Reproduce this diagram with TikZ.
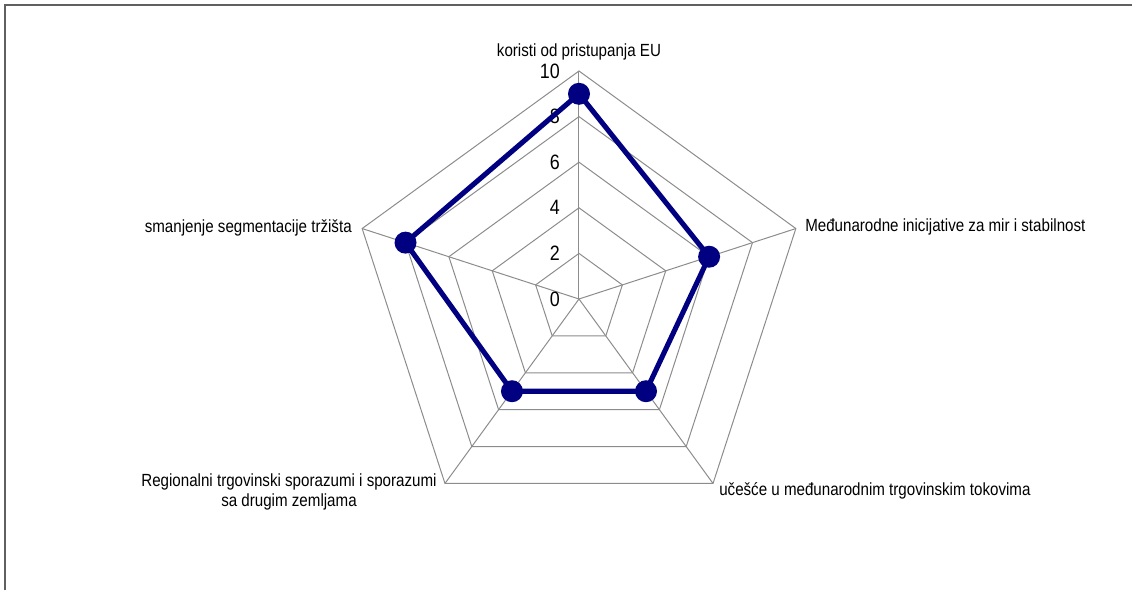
\documentclass[tikz,border=0pt]{standalone}
\usepackage{fontspec}
\setmainfont{Liberation Sans}[FakeStretch=0.86]
\definecolor{navyline}{HTML}{000080}
\definecolor{gridgray}{HTML}{8C8C8C}
\definecolor{framegray}{HTML}{606060}
\begin{document}
\begin{tikzpicture}[x=0.75pt,y=0.75pt,
  grid/.style={draw=gridgray,line width=0.75pt},
  dataline/.style={draw=navyline,line width=3.8pt,line join=miter},
  datadot/.style={circle,fill=navyline,minimum size=16.5pt,inner sep=0pt},
  axislabel/.style={font=\fontsize{13.2pt}{15pt}\selectfont,inner sep=0pt},
  ticklabel/.style={font=\fontsize{15.6pt}{17pt}\selectfont,inner sep=0pt,anchor=east}]
\useasboundingbox (-579,-291) rectangle (553,299);
% frame
\draw[framegray,line width=1.2pt] (-574,-291) -- (-574,294) -- (553,294);
\coordinate (O) at (0,0);
% rings
\foreach \r in {2,4,6,8,10}{
  \draw[grid] (90:\r*22.8) -- (18:\r*22.8) -- (-54:\r*22.8) -- (-126:\r*22.8) -- (162:\r*22.8) -- cycle;
}
% spokes
\foreach \a/\n in {90/A,18/B,-54/C,-126/D,162/E}{
  \coordinate (\n) at (\a:228);
  \draw[grid] (O) -- (\n);
}
% tick labels
\foreach \v in {0,2,4,6,8,10}{
  \node[ticklabel] (t\v) at (-19,\v*22.8) {\v};
}
% data
\coordinate (p1) at (90:9*22.8);
\coordinate (p2) at (18:6*22.8);
\coordinate (p3) at (-54:5*22.8);
\coordinate (p4) at (-126:5*22.8);
\coordinate (p5) at (162:8*22.8);
\draw[dataline] (p1) -- (p2) -- (p3) -- (p4) -- (p5) -- cycle;
\foreach \p in {1,...,5}{\node[datadot] (d\p) at (p\p) {};}
% axis labels
\node[axislabel,anchor=base] (la) at (0,243) {koristi od pristupanja EU};
\node[axislabel,anchor=west] (lb) at (226,72) {Međunarodne inicijative za mir i stabilnost};
\node[axislabel,anchor=west] (lc) at (140,-192) {učešće u međunarodnim trgovinskim tokovima};
\node[axislabel,align=center] (ld) at (-290,-193) {Regionalni trgovinski sporazumi i sporazumi\\sa drugim zemljama};
\node[axislabel,anchor=east] (le) at (-227,71) {smanjenje segmentacije tržišta};
\end{tikzpicture}
\end{document}
